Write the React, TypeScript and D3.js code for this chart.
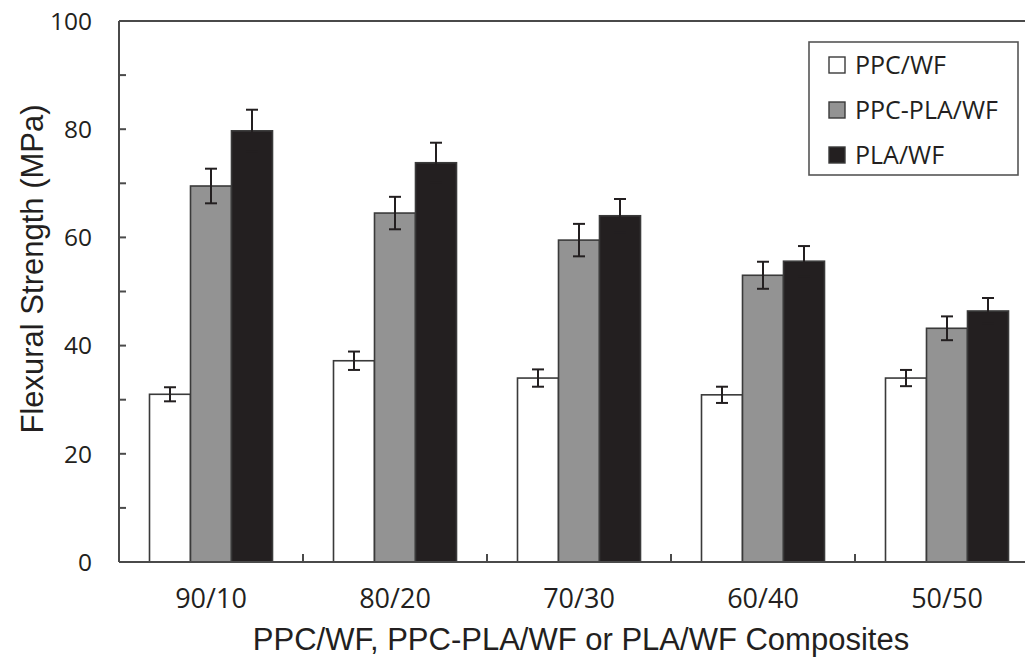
import * as d3 from 'd3';
import React, { useEffect } from 'react';

const categories = ['90/10', '80/20', '70/30', '60/40', '50/50'];
const seriesNames = ['PPC/WF', 'PPC-PLA/WF', 'PLA/WF'];
const ppcWf = [31.0, 37.2, 34.0, 30.9, 34.0];
const ppcWfErr = [1.3, 1.7, 1.6, 1.5, 1.5];
const ppcPlaWf = [69.5, 64.5, 59.5, 53.0, 43.2];
const ppcPlaWfErr = [3.2, 3.0, 3.0, 2.5, 2.2];
const plaWf = [79.7, 73.8, 64.0, 55.6, 46.4];
const plaWfErr = [3.9, 3.7, 3.1, 2.8, 2.4];
const yTicks = [0, 20, 40, 60, 80, 100];

export default function App() {
  const ref = React.useRef<HTMLDivElement>(null);

  useEffect(() => {
    if (!ref.current) return;
    ref.current.innerHTML = '';

    const W = 1025;
    const H = 663;
    const left = 119;
    const right = 1039;
    const top = 21;
    const bottom = 562;

    const values = [ppcWf, ppcPlaWf, plaWf];
    const errors = [ppcWfErr, ppcPlaWfErr, plaWfErr];
    const fills = ['#ffffff', '#939393', '#231f20'];

    const x0 = d3.scaleBand().domain(categories).range([left, right]).padding(0);
    const x1 = d3
      .scaleBand()
      .domain(seriesNames)
      .range([0, x0.bandwidth()])
      .paddingInner(0)
      .paddingOuter(0.744);
    const y = d3.scaleLinear().domain([0, 100]).range([bottom, top]);

    const svg = d3
      .select(ref.current)
      .append('svg')
      .attr('width', W)
      .attr('height', H)
      .style('position', 'absolute')
      .style('left', '0px')
      .style('top', '0px')
      .style('background', '#fff');

    // bars
    seriesNames.forEach((name, si) => {
      const g = svg.append('g');
      g.selectAll('rect')
        .data(categories)
        .enter()
        .append('rect')
        .attr('x', c => (x0(c) as number) + (x1(name) as number))
        .attr('y', (c, i) => y(values[si][i]))
        .attr('width', x1.bandwidth())
        .attr('height', (c, i) => y(0) - y(values[si][i]))
        .attr('fill', fills[si])
        .attr('stroke', '#3a3a3a')
        .attr('stroke-width', 1.6);
    });

    // error bars
    seriesNames.forEach((name, si) => {
      categories.forEach((c, i) => {
        const cx = (x0(c) as number) + (x1(name) as number) + x1.bandwidth() / 2;
        const hi = y(values[si][i] + errors[si][i]);
        const lo = y(values[si][i] - errors[si][i]);
        const eb = svg.append('g').attr('stroke', '#231f20').attr('stroke-width', 2);
        eb.append('line').attr('x1', cx).attr('x2', cx).attr('y1', hi).attr('y2', lo);
        eb.append('line').attr('x1', cx - 6).attr('x2', cx + 6).attr('y1', hi).attr('y2', hi);
        eb.append('line').attr('x1', cx - 6).attr('x2', cx + 6).attr('y1', lo).attr('y2', lo);
      });
    });

    // frame
    const frame = svg.append('g').attr('stroke', '#4a4a4a').attr('stroke-width', 2);
    frame.append('line').attr('x1', left).attr('x2', W).attr('y1', top).attr('y2', top);
    frame.append('line').attr('x1', left).attr('x2', W).attr('y1', bottom).attr('y2', bottom);
    frame.append('line').attr('x1', left).attr('x2', left).attr('y1', top).attr('y2', bottom);

    // y axis ticks (inward, every 10)
    d3.range(10, 100, 10).forEach(v => {
      frame
        .append('line')
        .attr('x1', left)
        .attr('x2', left + 7)
        .attr('y1', y(v))
        .attr('y2', y(v));
    });
    // x axis ticks between groups
    categories.slice(1).forEach(c => {
      const tx = x0(c) as number;
      frame
        .append('line')
        .attr('x1', tx)
        .attr('x2', tx)
        .attr('y1', bottom)
        .attr('y2', bottom - 8);
    });

    // y tick labels
    svg
      .selectAll('.ylab')
      .data(yTicks)
      .enter()
      .append('text')
      .attr('class', 'ylab')
      .attr('x', 92)
      .attr('y', d => y(d))
      .attr('dy', '0.36em')
      .attr('text-anchor', 'end')
      .style('font-family', '"Open Sans", sans-serif')
      .style('font-size', '24.5px')
      .style('fill', '#231f20')
      .text(d => d);

    // x tick labels
    svg
      .selectAll('.xlab')
      .data(categories)
      .enter()
      .append('text')
      .attr('class', 'xlab')
      .attr('x', c => (x0(c) as number) + x0.bandwidth() / 2)
      .attr('y', 608)
      .attr('text-anchor', 'middle')
      .style('font-family', '"Open Sans", sans-serif')
      .style('font-size', '27px')
      .style('fill', '#231f20')
      .text(c => c);

    // axis titles
    svg
      .append('text')
      .attr('x', 581)
      .attr('y', 650)
      .attr('text-anchor', 'middle')
      .style('font-family', '"Liberation Sans", Arial, sans-serif')
      .style('font-size', '31px')
      .style('fill', '#231f20')
      .text('PPC/WF, PPC-PLA/WF or PLA/WF Composites');
    svg
      .append('text')
      .attr('transform', 'translate(43,269) rotate(-90)')
      .attr('text-anchor', 'middle')
      .style('font-family', '"Liberation Sans", Arial, sans-serif')
      .style('font-size', '31px')
      .style('fill', '#231f20')
      .text('Flexural Strength (MPa)');

    // legend
    svg
      .append('rect')
      .attr('x', 809)
      .attr('y', 42)
      .attr('width', 209)
      .attr('height', 133)
      .attr('fill', '#fff')
      .attr('stroke', '#555')
      .attr('stroke-width', 1.6);
    const legend = svg
      .selectAll('.legend')
      .data(seriesNames)
      .enter()
      .append('g')
      .attr('class', 'legend')
      .attr('transform', (d, i) => `translate(829,${65 + i * 45})`);
    legend
      .append('rect')
      .attr('x', 0)
      .attr('y', -8)
      .attr('width', 16)
      .attr('height', 16)
      .attr('fill', (d, i) => fills[i])
      .attr('stroke', '#3a3a3a')
      .attr('stroke-width', 1.4);
    legend
      .append('text')
      .attr('x', 26)
      .attr('y', 0)
      .attr('dy', '0.36em')
      .style('font-family', '"Open Sans", sans-serif')
      .style('font-size', '25px')
      .style('fill', '#231f20')
      .text(d => d);
  }, []);

  return <div ref={ref}></div>;
}
